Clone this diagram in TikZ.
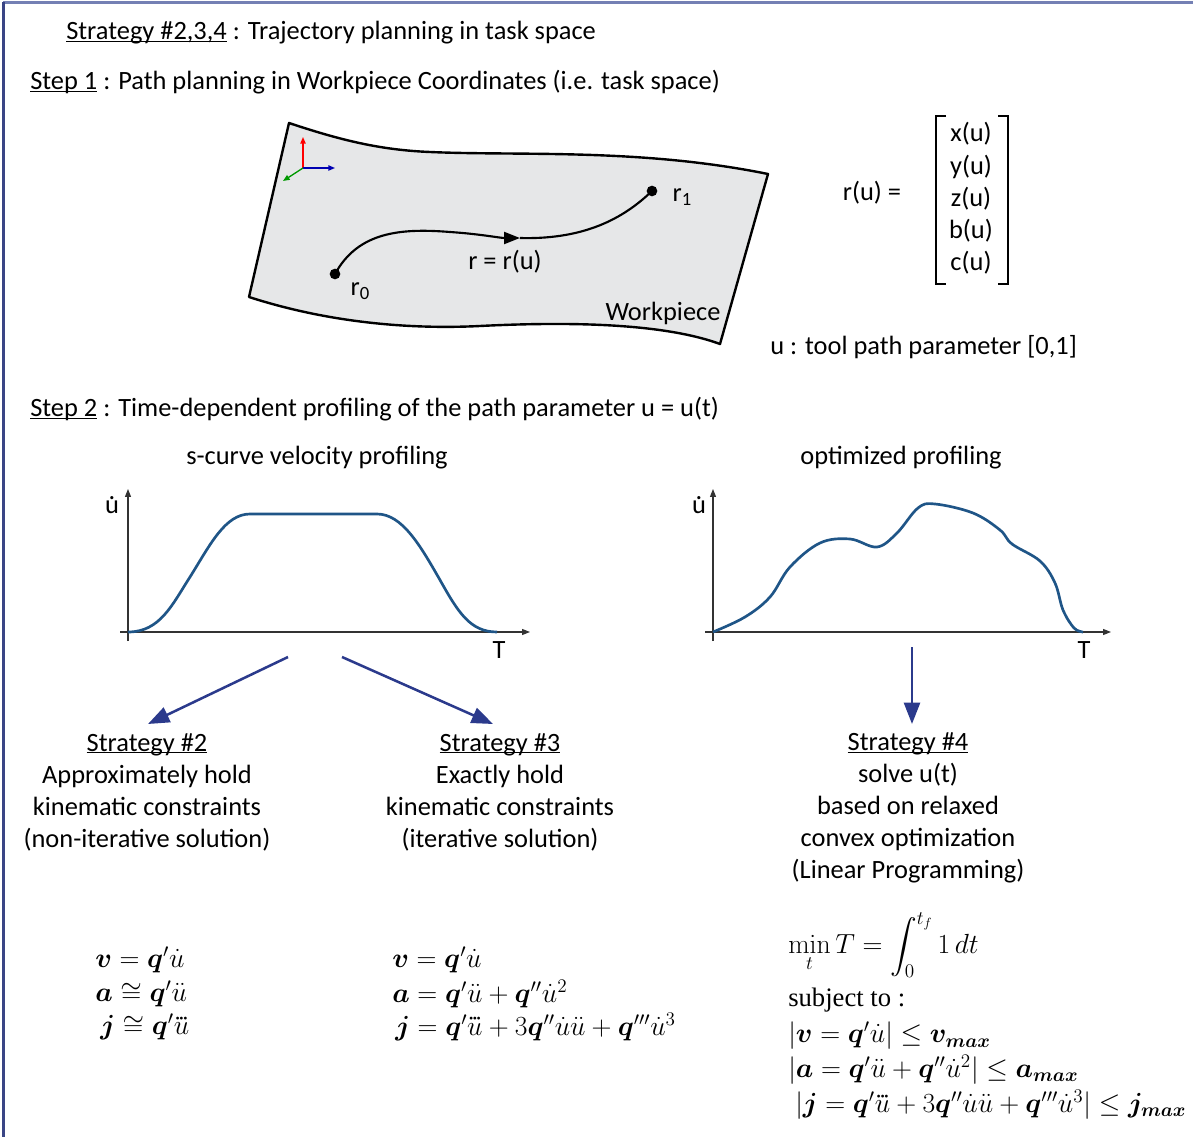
\documentclass[tikz,border=0pt]{standalone}
\usepackage{amsmath,amssymb,bm}
\usepackage[no-math]{fontspec}
\setmainfont{Carlito}
\newfontfamily\timesfont{Liberation Serif}
\usetikzlibrary{arrows.meta}
\newcommand\myul[1]{\setbox0\hbox{#1}\rlap{\rule[-0.09em]{\wd0}{0.055em}}\box0\relax}
\newcommand\udot{\ooalign{u\cr\hidewidth\raisebox{0.52em}{.}\hidewidth\cr}}
\newcommand\udddot{\mbox{\ooalign{$u$\cr\hidewidth\raisebox{0.36em}{${\cdot}\mkern-2.5mu{\cdot}\mkern-2.5mu{\cdot}$}\hidewidth\cr}}}
\definecolor{curveblue}{HTML}{1F5587}
\definecolor{arrownavy}{HTML}{2B3A8C}
\definecolor{framedark}{HTML}{3A4585}
\definecolor{framelight}{HTML}{7480B4}
\definecolor{wpgray}{HTML}{E6E7E8}
\definecolor{axisgray}{HTML}{333333}
\begin{document}
\begin{tikzpicture}[x=0.75pt,y=-0.75pt,
  txt/.style={font=\fontsize{19.8}{24}\selectfont, inner sep=0pt},
  mth/.style={font=\fontsize{20}{25}\selectfont, inner sep=0pt, anchor=west},
  dotnode/.style={circle, fill=black, inner sep=0pt, minimum size=8pt},
  axis/.style={axisgray, line width=0.8pt, -{Triangle[length=6pt,width=4.5pt]}},
  profile/.style={curveblue, line width=2pt, line join=round},
  bigarrow/.style={arrownavy, line width=1.9pt, -{Triangle[length=16pt,width=12pt]}}]
\useasboundingbox (0,0) rectangle (1193,1137);
% frame
\draw[framelight, line width=2pt] (3,2.5) -- (1193,2.5);
\draw[framedark, line width=2pt] (3.5,1137) -- (3.5,2);
% headings
\node[txt, anchor=base west] (title) at (66,40) {\myul{Strategy \#2,3,4} : Trajectory planning in task space};
\node[txt, anchor=base west] (step1) at (30,90) {\myul{Step 1} : Path planning in Workpiece Coordinates (i.e. task space)};
% workpiece
\draw[fill=wpgray, line width=1.8pt, line join=round]
  (289,123) .. controls (340,140) and (380,150) .. (430,152)
  .. controls (520,156) and (640,148) .. (768,174)
  -- (720,344)
  .. controls (660,322) and (560,322) .. (480,326)
  .. controls (400,330) and (320,320) .. (249,297) -- cycle;
% coordinate icon
\coordinate (o) at (303,168);
\draw[red, line width=1pt, -{Triangle[length=5pt,width=4pt]}] (o) -- (303,137);
\draw[blue!70!black, line width=1pt, -{Triangle[length=5pt,width=4pt]}] (o) -- (335,168);
\draw[green!60!black, line width=1pt, -{Triangle[length=5pt,width=4pt]}] (o) -- (283,181);
% path
\node[dotnode] (r0) at (335,274) {};
\node[dotnode] (r1) at (652,191) {};
\coordinate (mid) at (520,238);
\draw[line width=1.6pt, -{Triangle[length=12pt,width=9pt]}] (r0.center) .. controls (358,232) and (400,228) .. (450,232) .. controls (480,234) and (500,238) .. (mid);
\draw[line width=1.6pt] (mid) .. controls (590,240) and (628,214) .. (r1.center);
\node[txt] (rlab) at (505,262) {r = r(u)};
\node[txt] (r0lab) at (360,291) {r\raisebox{-0.35ex}{\fontsize{14}{16}\selectfont 0}};
\node[txt] (r1lab) at (682,197) {r\raisebox{-0.35ex}{\fontsize{14}{16}\selectfont 1}};
\node[txt] (wp) at (663,313) {Workpiece};
% r(u) vector
\node[txt] (ru) at (872,193) {r(u) =};
\draw[line width=1.5pt] (946,116) -- (936,116) -- (936,284) -- (946,284);
\draw[line width=1.5pt] (998,116) -- (1008,116) -- (1008,284) -- (998,284);
\node[txt] (xu) at (971,134) {x(u)};
\node[txt] (yu) at (971,167) {y(u)};
\node[txt] (zu) at (971,199) {z(u)};
\node[txt] (bu) at (971,231) {b(u)};
\node[txt] (cu) at (971,263) {c(u)};
\node[txt, anchor=west] (param) at (770,347) {u : tool path parameter [0,1]};
% step 2
\node[txt, anchor=base west] (step2) at (30,417) {\myul{Step 2} : Time-dependent profiling of the path parameter u = u(t)};
\node[txt] (scurve) at (317,458) {s-curve velocity profiling};
\node[txt] (optprof) at (901,458) {optimized profiling};
% left plot
\draw[axis] (128,641) -- (128,489);
\draw[axis] (120,632) -- (530,632);
\node[txt] (ud1) at (112,507) {\udot};
\node[txt] (T1) at (499,650) {T};
\draw[profile] (128,632) .. controls (160,632) and (172,605) .. (190,577)
  .. controls (210,545) and (225,514) .. (250,514) -- (377,514)
  .. controls (402,514) and (420,545) .. (440,580)
  .. controls (458,612) and (470,632) .. (497,632);
% right plot
\draw[axis] (713,641) -- (713,489);
\draw[axis] (705,632) -- (1111,632);
\node[txt] (ud2) at (699,507) {\udot};
\node[txt] (T2) at (1084,650) {T};
\draw[profile] plot[smooth, tension=0.6] coordinates {(713,632) (745,617) (770,597) (790,567) (820,543) (850,539) (877,547) (897,533) (918,508) (935,504) (973,513) (1000,530) (1012,544) (1040,561) (1055,583) (1063,610) (1074,628) (1083,632)};
% strategy blocks
\node[txt, align=center] (s2) at (147,792) {\myul{Strategy \#2}\\Approximately hold\\kinematic constraints\\(non-iterative solution)};
\node[txt, align=center] (s3) at (500,792) {\myul{Strategy \#3}\\Exactly hold\\kinematic constraints\\(iterative solution)};
\node[txt, align=center] (s4) at (908,808) {\myul{Strategy \#4}\\solve u(t)\\based on relaxed\\convex optimization\\(Linear Programming)};
% arrows
\coordinate (a2s) at (288,657);
\coordinate (a2e) at (148,724);
\coordinate (a3s) at (342,657);
\coordinate (a3e) at (493,724);
\coordinate (a4s) at (912,647);
\coordinate (a4e) at (912,724);
\draw[bigarrow] (a2s) -- (a2e);
\draw[bigarrow] (a3s) -- (a3e);
\draw[bigarrow] (a4s) -- (a4e);
% equations strategy 2
\node[mth] (e21) at (95,960) {$\bm{v} = \bm{q}'\dot{u}$};
\node[mth] (e22) at (95,994) {$\bm{a} \cong \bm{q}'\ddot{u}$};
\node[mth] (e23) at (100,1027) {$\bm{j} \cong \bm{q}'\udddot$};
% equations strategy 3
\node[mth] (e31) at (392,960) {$\bm{v} = \bm{q}'\dot{u}$};
\node[mth] (e32) at (392,994) {$\bm{a} = \bm{q}'\ddot{u} + \bm{q}''\dot{u}^2$};
\node[mth] (e33) at (395,1027) {$\bm{j} = \bm{q}'\udddot + 3\bm{q}''\dot{u}\ddot{u} + \bm{q}'''\dot{u}^3$};
% equations strategy 4
\node[mth] (e40) at (788,945) {$\displaystyle \min_{t} T = \int_0^{t_f} 1\, dt$};
\node[mth, font=\timesfont\fontsize{20}{25}\selectfont] (e41) at (788,1000) {subject to :};
\node[mth] (e42) at (788,1036) {$|\bm{v} = \bm{q}'\dot{u}| \le \bm{v}_{\bm{max}}$};
\node[mth] (e43) at (788,1070) {$|\bm{a} = \bm{q}'\ddot{u} + \bm{q}''\dot{u}^2| \le \bm{a}_{\bm{max}}$};
\node[mth] (e44) at (795,1105) {$|\bm{j} = \bm{q}'\udddot + 3\bm{q}''\dot{u}\ddot{u} + \bm{q}'''\dot{u}^3| \le \bm{j}_{\bm{max}}$};
\end{tikzpicture}
\end{document}
